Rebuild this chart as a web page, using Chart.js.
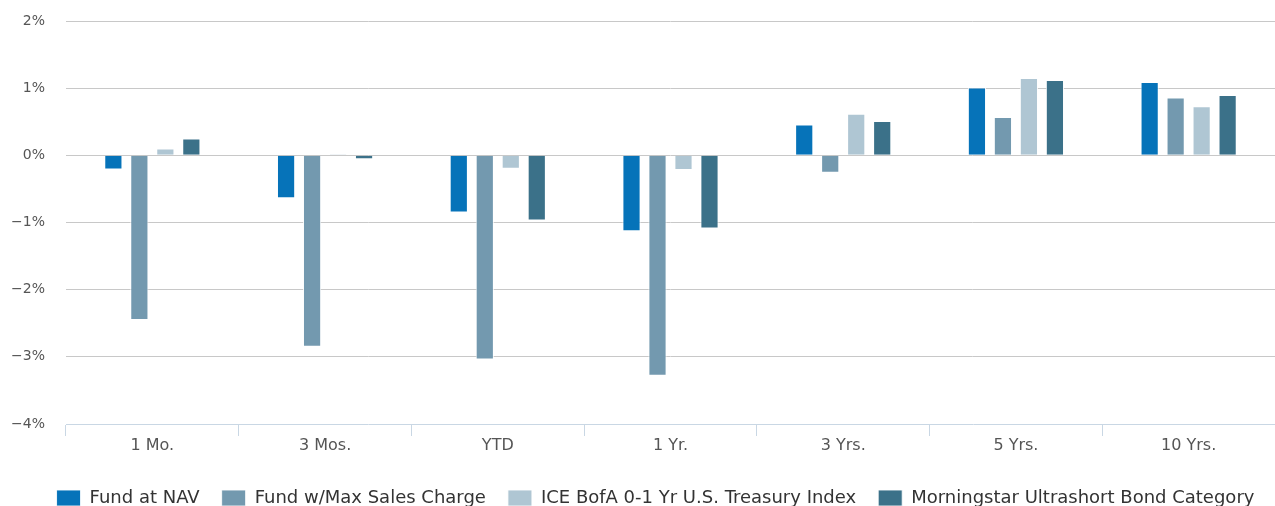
<!DOCTYPE html>
<html>
<head>
<meta charset="utf-8">
<script src="https://cdn.jsdelivr.net/npm/chart.js@4/dist/chart.umd.min.js"></script>
<style>
  html, body { margin: 0; padding: 0; background: #fff; overflow: hidden; }
  canvas { display: block; }
</style>
</head>
<body>
<canvas id="perfChart" width="1275" height="506"></canvas>
<script>
var periods = ["1 Mo.", "3 Mos.", "YTD", "1 Yr.", "3 Yrs.", "5 Yrs.", "10 Yrs."];

var fundNav = [-0.21, -0.64, -0.85, -1.13, 0.46, 1.01, 1.09];
var fundMaxCharge = [-2.45, -2.85, -3.04, -3.28, -0.26, 0.57, 0.86];
var iceIndex = [0.10, 0.02, -0.20, -0.22, 0.62, 1.15, 0.73];
var morningstarCat = [0.25, -0.06, -0.97, -1.09, 0.51, 1.12, 0.90];

var yMin = -4, yMax = 2;

var seriesNames = [
  "Fund at NAV",
  "Fund w/Max Sales Charge",
  "ICE BofA 0-1 Yr U.S. Treasury Index",
  "Morningstar Ultrashort Bond Category"
];
var seriesColors = ['#0673b9', '#7399af', '#afc6d3', '#3b7189'];

function pct(v) {
  if (v === 0) return '0%';
  return (v < 0 ? '\u2212' + Math.abs(v) : v) + '%';
}

// legend items sit far apart but the legend box itself must stay short
var legendNudge = {
  id: 'legendNudge',
  beforeInit: function(chart) {
    chart.legend.afterFit = function() { this.height = 38; };
  },
  afterLayout: function(chart) {
    var lg = chart.legend;
    lg.left += 18;
    lg.right += 18;
    lg.top += 11;
    lg.bottom += 11;
  }
};

var allSeries = [fundNav, fundMaxCharge, iceIndex, morningstarCat];

var data = {
  labels: periods,
  datasets: allSeries.map(function(vals, i) {
    return {
      label: seriesNames[i],
      data: vals,
      backgroundColor: seriesColors[i],
      borderColor: 'rgba(255,255,255,0.85)',
      borderWidth: 1,
      categoryPercentage: 0.602,
      barPercentage: 0.7
    };
  })
};

new Chart(document.getElementById('perfChart').getContext('2d'), {
  type: 'bar',
  data: data,
  plugins: [legendNudge],
  options: {
    responsive: false,
    animation: false,
    layout: { padding: { top: 21, left: 0, right: 0, bottom: 0 } },
    plugins: {
      tooltip: { enabled: false },
      legend: {
        position: 'bottom',
        labels: {
          boxWidth: 24,
          boxHeight: 16,
          padding: 22,
          color: '#333',
          font: { family: 'DejaVu Sans', size: 18 }
        }
      }
    },
    scales: {
      x: {
        offset: true,
        afterFit: function(s) { s.height = 32; },
        grid: {
          offset: true,
          drawOnChartArea: false,
          drawTicks: true,
          tickLength: 12,
          color: '#c9d7e4'
        },
        border: { display: true, color: '#c9d7e4', width: 1 },
        ticks: {
          padding: 0,
          color: '#555',
          font: { family: 'DejaVu Sans', size: 16 }
        }
      },
      y: {
        min: yMin,
        max: yMax,
        afterFit: function(s) {
          s.width = 66;
          s.paddingTop = 0;
          s.paddingBottom = 0;
        },
        grid: {
          drawTicks: false,
          color: function(ctx) {
            return ctx.tick && ctx.tick.value === yMin ? 'rgba(0,0,0,0)' : '#c8c8c8';
          }
        },
        border: { display: false },
        ticks: {
          stepSize: 1,
          padding: 21,
          color: '#555',
          font: { family: 'DejaVu Sans', size: 14 },
          callback: function(v) { return pct(v); }
        }
      }
    }
  }
});
</script>
</body>
</html>
